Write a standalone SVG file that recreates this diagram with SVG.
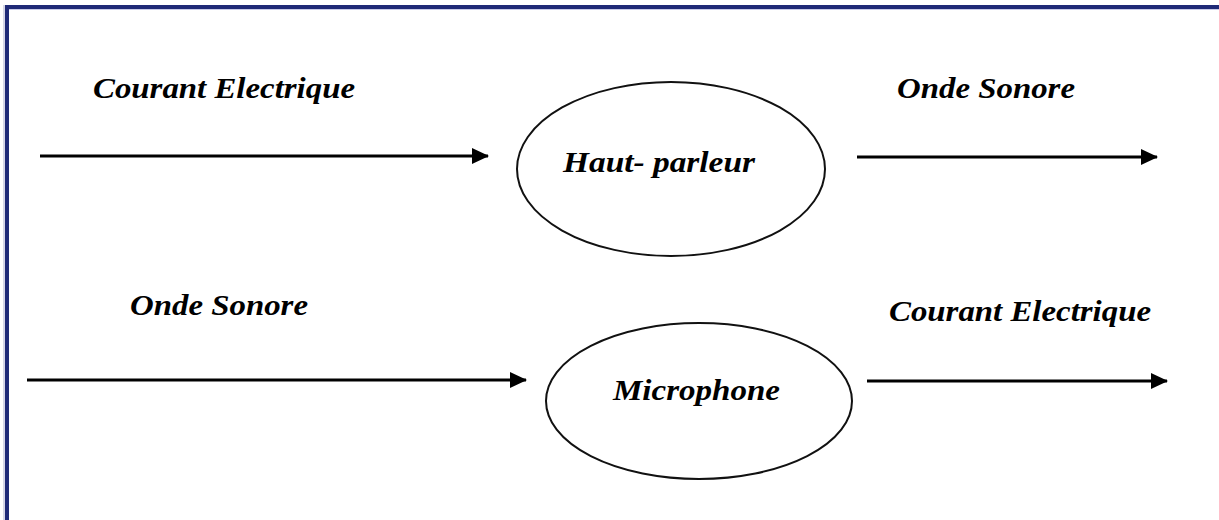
<svg xmlns="http://www.w3.org/2000/svg" width="1219" height="520" viewBox="0 0 1219 520">
  <style>
    .lbl { font-family: "Liberation Serif", "Times New Roman", serif; font-weight: bold; font-style: italic; font-size: 30px; fill: #000; }
    .node { fill: #fff; stroke: #111; stroke-width: 2; }
    .conn { stroke: #000; stroke-width: 2.8; fill: none; }
  </style>
  <defs>
    <marker id="arrow" markerUnits="userSpaceOnUse" markerWidth="18" markerHeight="18" refX="16" refY="8" orient="auto">
      <polygon points="0,0 17,8 0,16" fill="#000"/>
    </marker>
  </defs>
  <rect width="1219" height="520" fill="#fff"/>
  <g id="frame">
    <rect x="5" y="5" width="1214" height="4" fill="#1f2a77"/>
    <rect x="5" y="5" width="4" height="515" fill="#1f2a77"/>
    <rect x="9" y="9" width="1210" height="1" fill="#c9cbe8"/>
    <rect x="3" y="5" width="2" height="515" fill="#d5d6e6"/>
  </g>
  <g id="connectors">
    <line class="conn" x1="40" y1="156" x2="488" y2="156" marker-end="url(#arrow)"/>
    <line class="conn" x1="857" y1="157" x2="1157" y2="157" marker-end="url(#arrow)"/>
    <line class="conn" x1="27" y1="380" x2="526" y2="380" marker-end="url(#arrow)"/>
    <line class="conn" x1="867" y1="381" x2="1167" y2="381" marker-end="url(#arrow)"/>
  </g>
  <g id="labels">
    <text class="lbl" x="93" y="98" textLength="262" lengthAdjust="spacingAndGlyphs">Courant Electrique</text>
    <text class="lbl" x="897" y="98" textLength="178" lengthAdjust="spacingAndGlyphs">Onde Sonore</text>
    <text class="lbl" x="130" y="315" textLength="178" lengthAdjust="spacingAndGlyphs">Onde Sonore</text>
    <text class="lbl" x="889" y="321" textLength="262" lengthAdjust="spacingAndGlyphs">Courant Electrique</text>
  </g>
  <g id="haut-parleur">
    <ellipse class="node" cx="671" cy="169" rx="154" ry="87"/>
    <text class="lbl" x="563" y="172" textLength="192" lengthAdjust="spacingAndGlyphs">Haut- parleur</text>
  </g>
  <g id="microphone">
    <ellipse class="node" cx="699" cy="401" rx="153" ry="78"/>
    <text class="lbl" x="613" y="400" textLength="167" lengthAdjust="spacingAndGlyphs">Microphone</text>
  </g>
</svg>
